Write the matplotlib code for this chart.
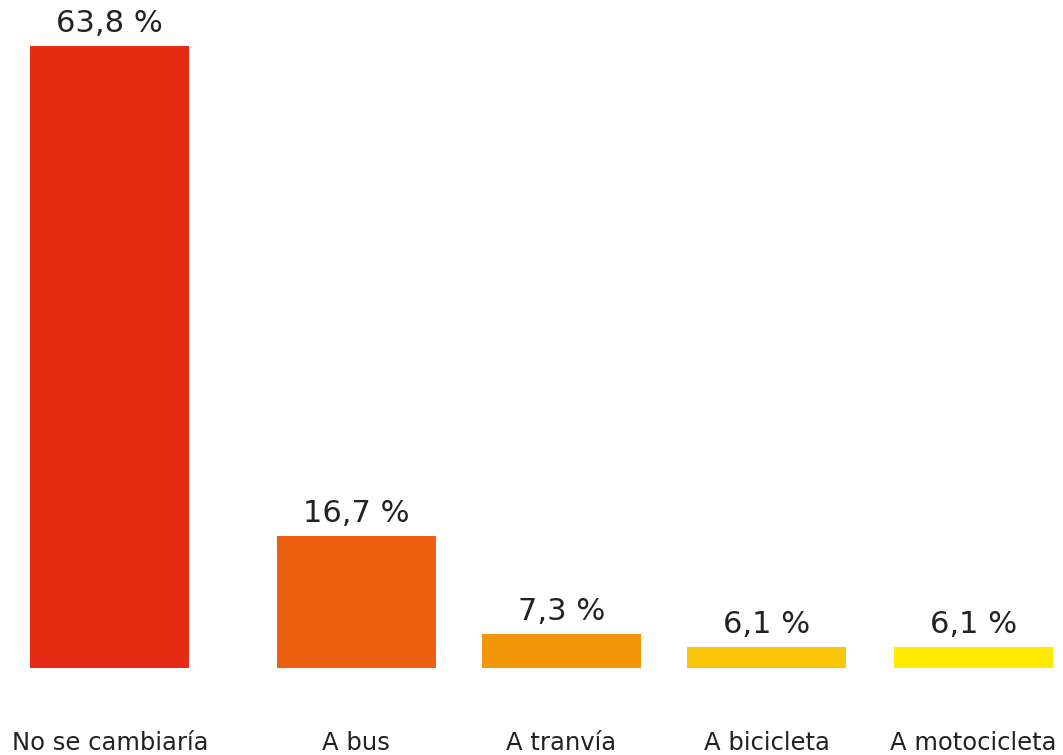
import matplotlib
matplotlib.use("Agg")
import matplotlib.pyplot as plt

# data
categories = ["No se cambiaría", "A bus", "A tranvía", "A bicicleta", "A motocicleta"]
values = [63.8, 16.7, 7.3, 6.1, 6.1]
value_labels = ["63,8 %", "16,7 %", "7,3 %", "6,1 %", "6,1 %"]

# layout / style
positions = [0, 1.2, 2.2, 3.2, 4.21]
colors = ["#E62A14", "#EC5F0E", "#F4960A", "#FAC609", "#FFEA00"]
text_color = "#222222"

plt.rcParams["font.family"] = ["DejaVu Sans"]

fig = plt.figure(figsize=(10.63, 7.55), dpi=100)
ax = fig.add_axes([0, 87 / 755, 1, 622 / 755])

ax.bar(positions, values, width=0.775, color=colors, bottom=0)
ax.set_ylim(4.07, 63.8)
ax.set_xlim(-0.535, 4.645)

for x, v, lab in zip(positions, values, value_labels):
    ax.annotate(lab, (x, v), xytext=(0, 6), textcoords="offset points",
                ha="center", va="bottom", fontsize=22, color=text_color)

ax.set_xticks(positions)
ax.set_xticklabels(categories, fontsize=17.5, color=text_color)
ax.tick_params(axis="x", length=0, pad=45)
ax.set_yticks([])
for s in ax.spines.values():
    s.set_visible(False)

fig.savefig("out.png", dpi=100)
